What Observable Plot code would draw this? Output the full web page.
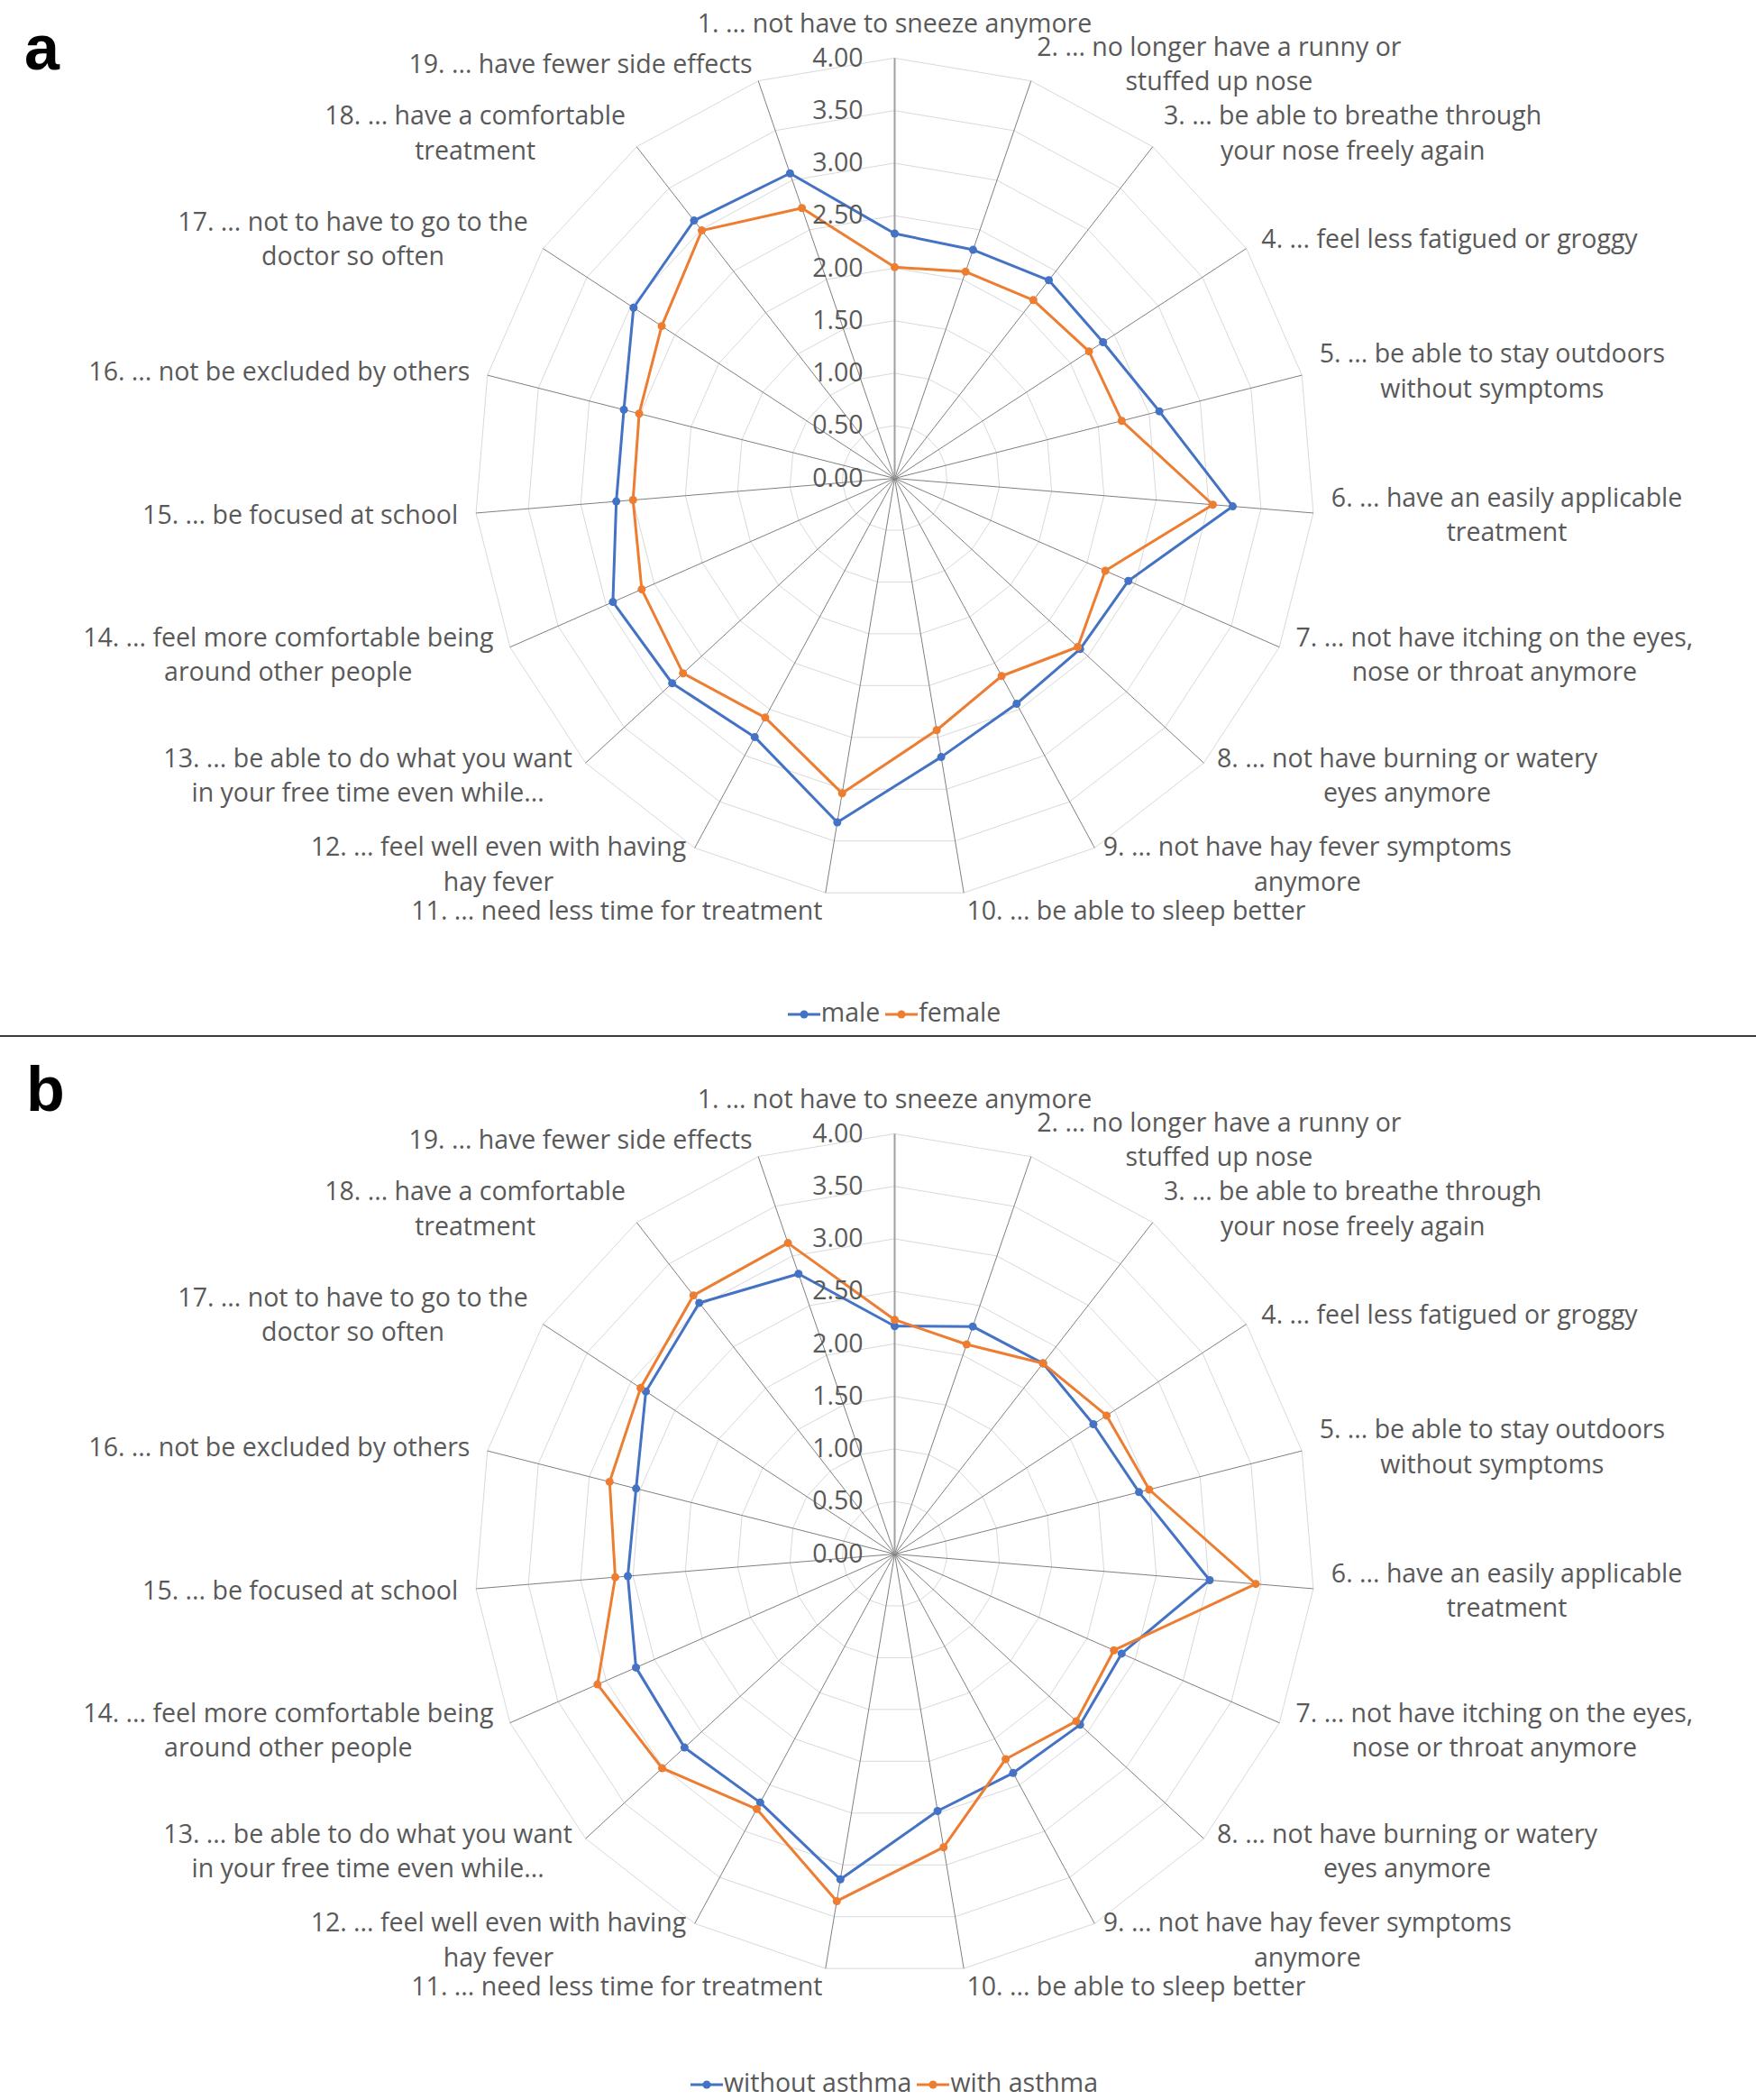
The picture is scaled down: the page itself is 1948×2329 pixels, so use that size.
<!DOCTYPE html>
<html>
<head>
<meta charset="utf-8">
<script src="https://cdn.jsdelivr.net/npm/d3@7"></script>
<script src="https://cdn.jsdelivr.net/npm/@observablehq/plot@0.6"></script>
<style>
  html, body { margin: 0; padding: 0; background: #fff; }
  #page { position: relative; width: 1948px; height: 2329px; overflow: hidden; background: #fff; font-family: "Open Sans", sans-serif; }
  .tag { position: absolute; font-family: "Liberation Sans", Arial, sans-serif; font-weight: bold; font-size: 70px; line-height: 1; color: #000; }
  .chart { position: absolute; left: 0; }
  .legend { position: absolute; left: 18px; width: 1948px; height: 36px; line-height: 36px; text-align: center; font-size: 28.5px; color: #595959; white-space: nowrap; }
  .legend .item { display: inline-block; margin: 0 3px; }
  .legend svg { vertical-align: middle; margin-right: 1px; }
  .divider { position: absolute; left: 0; width: 1948px; height: 2px; background: #3c3c3c; }
</style>
</head>
<body>
<div id="page">
  <div class="tag" style="left:27px; top:18px;">a</div>
  <div id="chartA" class="chart" style="top:0px;"></div>
  <div id="legendA" class="legend" style="top:1104px;"></div>
  <div class="divider" style="top:1148px;"></div>
  <div class="tag" style="left:29px; top:1173px;">b</div>
  <div id="chartB" class="chart" style="top:1193px;"></div>
  <div id="legendB" class="legend" style="top:2291px;"></div>
</div>
<script>
// ---------------- data ----------------
const categories = [
  "1. ... not have to sneeze anymore",
  "2. ... no longer have a runny or\nstuffed up nose",
  "3. ... be able to breathe through\nyour nose freely again",
  "4. ... feel less fatigued or groggy",
  "5. ... be able to stay outdoors\nwithout symptoms",
  "6. ... have an easily applicable\ntreatment",
  "7. ... not have itching on the eyes,\nnose or throat anymore",
  "8. ... not have burning or watery\neyes anymore",
  "9. ... not have hay fever symptoms\nanymore",
  "10. ... be able to sleep better",
  "11. ... need less time for treatment",
  "12. ... feel well even with having\nhay fever",
  "13. ... be able to do what you want\nin your free time even while...",
  "14. ... feel more comfortable being\naround other people",
  "15. ... be focused at school",
  "16. ... not be excluded by others",
  "17. ... not to have to go to the\ndoctor so often",
  "18. ... have a comfortable\ntreatment",
  "19. ... have fewer side effects"
];

const male          = [2.33, 2.30, 2.39, 2.37, 2.60, 3.23, 2.43, 2.40, 2.44, 2.69, 3.32, 2.80, 2.88, 2.93, 2.66, 2.66, 2.97, 3.11, 3.07];
const female        = [2.01, 2.08, 2.15, 2.21, 2.23, 3.04, 2.19, 2.37, 2.14, 2.43, 3.04, 2.59, 2.74, 2.63, 2.50, 2.51, 2.65, 2.99, 2.72];
const withoutAsthma = [2.17, 2.29, 2.30, 2.26, 2.40, 3.01, 2.36, 2.40, 2.37, 2.48, 3.14, 2.69, 2.72, 2.69, 2.55, 2.54, 2.83, 3.03, 2.82];
const withAsthma    = [2.23, 2.11, 2.30, 2.41, 2.50, 3.45, 2.28, 2.35, 2.22, 2.83, 3.35, 2.76, 3.01, 3.09, 2.67, 2.80, 2.89, 3.12, 3.13];

const ticks = [0, 0.5, 1, 1.5, 2, 2.5, 3, 3.5, 4];
const tickLabels = ["0.00", "0.50", "1.00", "1.50", "2.00", "2.50", "3.00", "3.50", "4.00"];

const seriesA = ["male", "female"];
const seriesB = ["without asthma", "with asthma"];
const colors = ["#4472C4", "#ED7D31"];

// ---------------- layout ----------------
const N = categories.length;
const W = 1948, H = 1100, CX = 992, CY = 530;
const k = 116.5;              // px per unit
const FS = 28.5, LH = 1.355;  // label font size, line height (em)
const TEXT = "#595959";
const FONT = '"Open Sans", sans-serif';
const maxV = ticks[ticks.length - 1];

const ang = i => (2 * Math.PI * i) / N;
const px = (i, v) => v * Math.sin(ang(i));
const py = (i, v) => v * Math.cos(ang(i));

const ctx = document.createElement("canvas").getContext("2d");
ctx.font = `${FS}px "Open Sans"`;
const blockWidth = s => Math.max(...s.split("\n").map(l => ctx.measureText(l).width));

const labelData = categories.map((c, i) => {
  const s = Math.sin(ang(i)), co = Math.cos(ang(i));
  const rA = maxV + 20 / k;
  const n = c.split("\n").length;
  let x = rA * s, y = rA * co;
  if (Math.abs(s) > 0.05) x += Math.sign(s) * blockWidth(c) / 2 / k;
  else y += (n * FS * LH) / 2 / k;
  return {text: c, x, y};
});

const rings = ticks.slice(1).flatMap(t => d3.range(N).map(i => ({t, i})));

function radar(names, values) {
  const data = names.flatMap((name, s) => values[s].map((v, i) => ({series: name, i, v})));
  const seriesMarks = names.flatMap(name => {
    const d = data.filter(e => e.series === name);
    return [
      Plot.line(d, {x: e => px(e.i, e.v), y: e => py(e.i, e.v), stroke: "series", strokeWidth: 3, curve: "linear-closed", strokeLinejoin: "round"}),
      Plot.dot(d, {x: e => px(e.i, e.v), y: e => py(e.i, e.v), fill: "series", r: 4.5, stroke: "none"})
    ];
  });
  return Plot.plot({
    width: W, height: H, margin: 0,
    style: {fontFamily: FONT, background: "transparent"},
    x: {domain: [-CX / k, (W - CX) / k], axis: null},
    y: {domain: [-(H - CY) / k, CY / k], axis: null},
    color: {domain: names, range: colors},
    marks: [
      Plot.line(rings, {x: d => px(d.i, d.t), y: d => py(d.i, d.t), z: "t", curve: "linear-closed", stroke: "#d9d9d9", strokeWidth: 1}),
      Plot.link(d3.range(1, N), {x1: () => 0, y1: () => 0, x2: i => px(i, maxV), y2: i => py(i, maxV), stroke: "#7f7f7f", strokeWidth: 1}),
      Plot.link([0], {x1: () => 0, y1: () => 0, x2: i => px(i, maxV), y2: i => py(i, maxV), stroke: "#a0a0a0", strokeWidth: 2}),
      ...seriesMarks,
      Plot.text(ticks, {x: () => 0, y: d => d, text: (d, i) => tickLabels[i], textAnchor: "end", dx: -35, lineAnchor: "middle", fontSize: FS, fill: TEXT}),
      Plot.text(labelData, {x: "x", y: "y", text: "text", textAnchor: "middle", lineAnchor: "middle", lineHeight: LH, fontSize: FS, fill: TEXT, dy: -2})
    ]
  });
}

function legend(el, names) {
  names.forEach((name, s) => {
    const item = document.createElement("span");
    item.className = "item";
    item.innerHTML = `<svg width="36" height="14"><line x1="0" y1="7" x2="36" y2="7" stroke="${colors[s]}" stroke-width="3"/><circle cx="18" cy="7" r="4.5" fill="${colors[s]}"/></svg>`;
    item.appendChild(document.createTextNode(name));
    el.appendChild(item);
  });
}

document.getElementById("chartA").appendChild(radar(seriesA, [male, female]));
document.getElementById("chartB").appendChild(radar(seriesB, [withoutAsthma, withAsthma]));
legend(document.getElementById("legendA"), seriesA);
legend(document.getElementById("legendB"), seriesB);
</script>
</body>
</html>
